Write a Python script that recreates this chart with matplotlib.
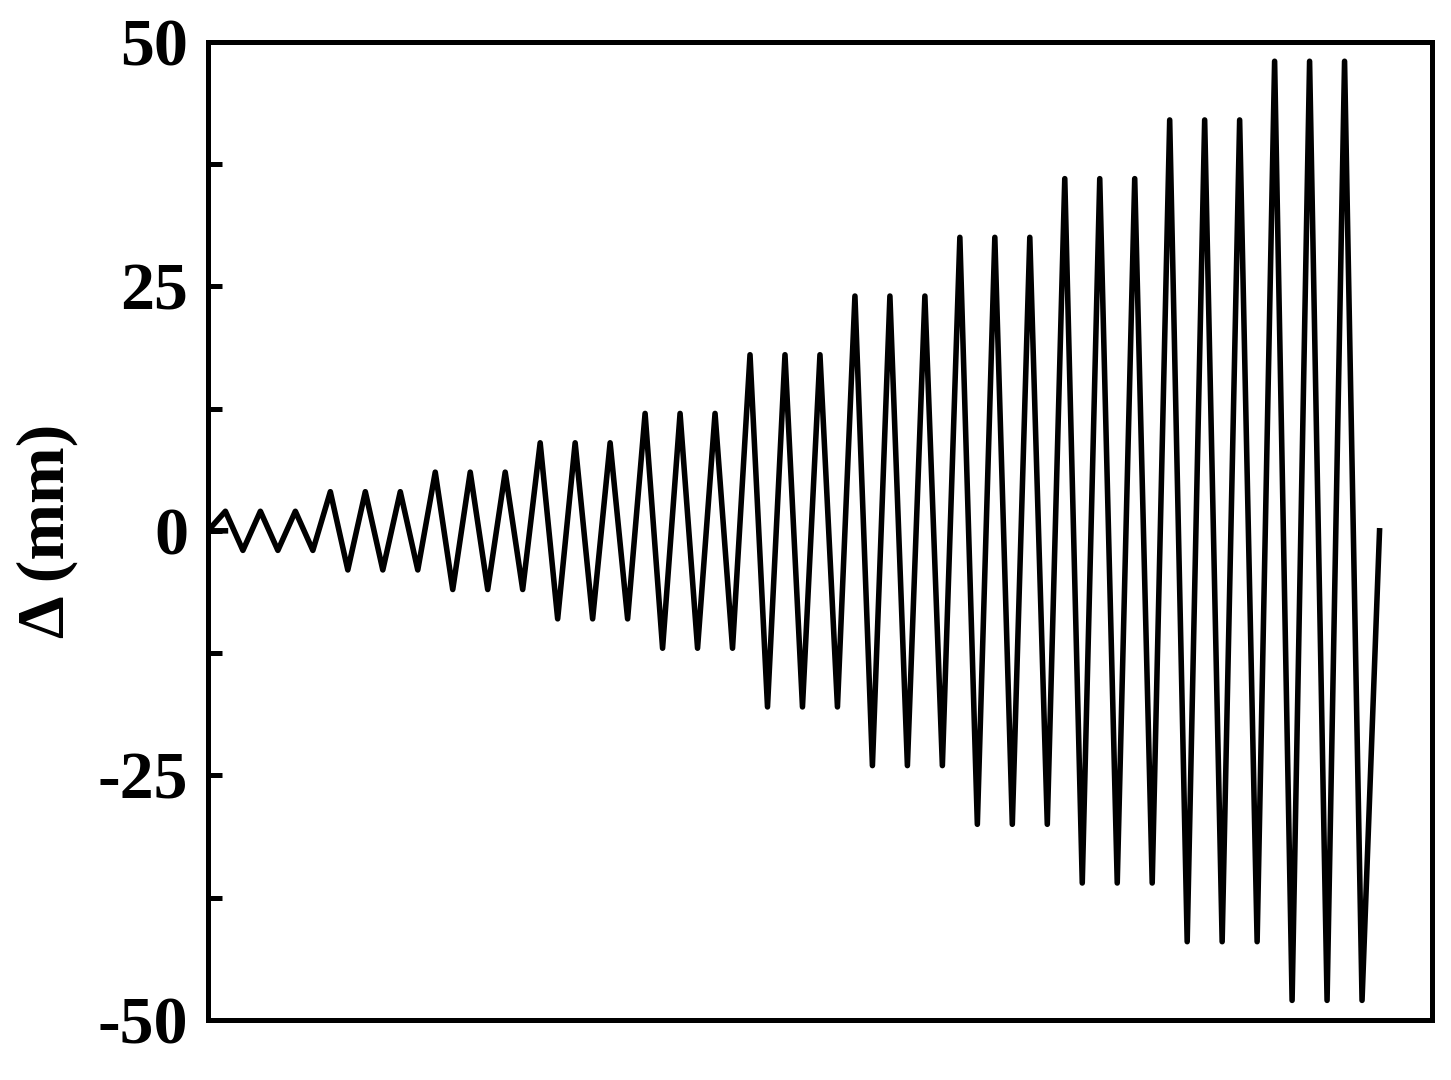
import numpy as np
import matplotlib
matplotlib.use('Agg')
import matplotlib.pyplot as plt
import matplotlib.ticker as ticker

# loading protocol: amplitude (mm) of each step, 3 cycles per step
amplitudes = [2, 4, 6, 9, 12, 18, 24, 30, 36, 42, 48]
cycles_per_step = [3, 3, 3, 3, 3, 3, 3, 3, 3, 3, 3]
y_ticks = [-50, -25, 0, 25, 50]
y_minor = [-37.5, -12.5, 12.5, 37.5]

plt.rcParams['font.family'] = ['Liberation Serif', 'DejaVu Serif']
plt.rcParams['font.weight'] = 'bold'
plt.rcParams['axes.unicode_minus'] = False

# build the zig-zag history: peak at t, trough at t+2
t = [2, 0]
d = [0, 0]
step = 0
for amp, n in zip(amplitudes, cycles_per_step):
    for i in range(n):
        t.append(2 + 4 * step)
        d.append(amp)
        t.append(4 + 4 * step)
        d.append(-amp)
        step += 1
t.append(t[-1] + 2)
d.append(0)

fig = plt.figure(figsize=(14.51, 10.80), dpi=100)
ax = fig.add_axes([0.1433, 0.0556, 0.8436, 0.9058])
ax.plot(t, d, color='black', linewidth=4.0)

ax.set_xlim(0, 140)
ax.set_ylim(-50, 50)
ax.set_yticks(y_ticks)
ax.set_yticks(y_minor, minor=True)
ax.yaxis.set_major_formatter(ticker.FuncFormatter(lambda v, p: '%d' % v))
ax.set_xticks([])
ax.tick_params(axis='y', which='both', direction='in', length=10, width=3.6,
               labelsize=49, pad=14, right=False)
for s in ax.spines.values():
    s.set_linewidth(3.6)

ax.set_ylabel('Δ (mm)', fontsize=49, fontweight='bold', labelpad=14)

fig.savefig('out.png', dpi=100)
